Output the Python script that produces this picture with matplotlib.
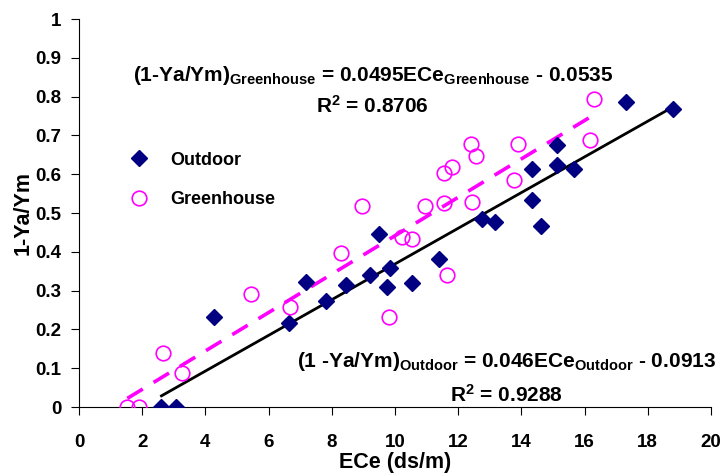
import matplotlib
matplotlib.use('Agg')
import matplotlib.pyplot as plt
import numpy as np

plt.rcParams['font.family'] = ['Liberation Sans', 'DejaVu Sans']
plt.rcParams['font.weight'] = 'bold'
plt.rcParams['mathtext.fontset'] = 'custom'
plt.rcParams['mathtext.rm'] = 'Liberation Sans:bold'
plt.rcParams['mathtext.it'] = 'Liberation Sans:bold'
plt.rcParams['mathtext.bf'] = 'Liberation Sans:bold'
plt.rcParams['mathtext.default'] = 'rm'

# Outdoor
out_ece = [2.61, 3.08, 4.28, 6.66, 7.19, 7.82, 8.46, 9.22, 9.49, 9.74, 9.84, 10.55,
           11.40, 12.75, 13.15, 14.35, 14.35, 14.61, 15.13, 15.14, 15.65, 17.31, 18.79]
out_y = [0.0, 0.0, 0.233, 0.217, 0.323, 0.273, 0.314, 0.340, 0.445, 0.310, 0.359, 0.320,
         0.381, 0.485, 0.477, 0.533, 0.614, 0.467, 0.675, 0.625, 0.613, 0.786, 0.769]

# Greenhouse
gh_ece = [1.53, 1.89, 2.65, 3.26, 5.44, 6.67, 8.29, 8.96, 9.81, 10.23, 10.53, 10.96,
          11.54, 11.54, 11.64, 11.80, 12.42, 12.45, 12.56, 13.77, 13.89, 16.17, 16.30]
gh_y = [0.0, 0.0, 0.138, 0.088, 0.291, 0.257, 0.396, 0.519, 0.231, 0.439, 0.433, 0.519,
        0.527, 0.602, 0.340, 0.619, 0.678, 0.529, 0.647, 0.585, 0.677, 0.688, 0.793]

# trend lines (coefficients from the chart)
out_fit = (0.046, -0.0913)
gh_fit = (0.0495, -0.0535)

fig = plt.figure(figsize=(7.2, 4.73), dpi=100)
ax = fig.add_axes([0.1097, 0.1395, 0.8778, 0.8203])

ax.plot(out_ece, out_y, linestyle='none', marker='D', markersize=7.8,
        color='#000080', label='Outdoor', zorder=3)
ax.plot(gh_ece, gh_y, linestyle='none', marker='o', markersize=10.5,
        markerfacecolor='none', markeredgecolor='#FF00FF', markeredgewidth=1.2,
        label='Greenhouse', zorder=3)

xo = np.array([min(out_ece), max(out_ece)])
ax.plot(xo, out_fit[0] * xo + out_fit[1], color='black', lw=2.0, zorder=2)
xg = np.array([min(gh_ece), max(gh_ece)])
ax.plot(xg, gh_fit[0] * xg + gh_fit[1], color='#FF00FF', lw=2.6,
        dashes=(5, 3.5), zorder=2)

ax.set_xlim(0, 20)
ax.set_ylim(0, 1)
ax.set_xticks(np.arange(0, 21, 2))
ax.set_yticks(np.arange(0, 1.01, 0.1))
ax.set_yticklabels(['0', '0.1', '0.2', '0.3', '0.4', '0.5', '0.6', '0.7', '0.8', '0.9', '1'])
ax.spines['top'].set_visible(False)
ax.spines['right'].set_visible(False)
ax.spines['left'].set_linewidth(0.8)
ax.spines['bottom'].set_linewidth(0.8)
ax.tick_params(direction='out', length=5.5, width=0.8, labelsize=13.5)
ax.tick_params(axis='x', pad=14)
ax.tick_params(axis='y', pad=7)
ax.set_xlabel('ECe (ds/m)', fontsize=15.5, fontweight='bold', labelpad=1)
ax.set_ylabel('1-Ya/Ym', fontsize=15.5, fontweight='bold', labelpad=1)

ax.text(0.465, 0.840, '(1-Ya/Ym)$_{Greenhouse}$ = 0.0495ECe$_{Greenhouse}$ - 0.0535',
        transform=ax.transAxes, ha='center', va='baseline', fontsize=15, fontweight='bold')
ax.text(0.465, 0.758, 'R$^2$ = 0.8706', transform=ax.transAxes,
        ha='center', va='baseline', fontsize=15, fontweight='bold')
ax.text(0.677, 0.104, '(1 -Ya/Ym)$_{Outdoor}$ = 0.046ECe$_{Outdoor}$ - 0.0913',
        transform=ax.transAxes, ha='center', va='baseline', fontsize=15, fontweight='bold')
ax.text(0.677, 0.0137, 'R$^2$ = 0.9288', transform=ax.transAxes,
        ha='center', va='baseline', fontsize=15, fontweight='bold')

ax.legend(loc='upper left', bbox_to_anchor=(0.04, 0.70), frameon=False,
          fontsize=13, handletextpad=0.75, labelspacing=1.25, numpoints=1)

fig.savefig('out.png', dpi=100)
